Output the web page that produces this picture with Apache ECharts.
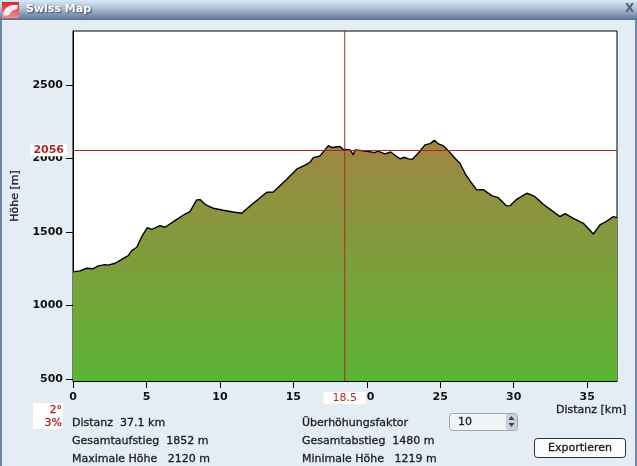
<!DOCTYPE html>
<html>
<head>
<meta charset="utf-8">
<title>Swiss Map</title>
<script src="https://cdn.jsdelivr.net/npm/echarts@6/dist/echarts.min.js"></script>
<style>
html, body { margin: 0; padding: 0; background: #e4ecf4; }
#chart { width: 637px; height: 466px; }
</style>
</head>
<body>
<div id="chart"></div>
<script>
// Hoehenprofil
const distanzKm = [0, 0.48, 0.93, 1.38, 1.72, 2.18, 2.4, 2.86, 3.32, 3.76, 4.0, 4.34, 4.68, 5.06, 5.36, 5.92, 6.26, 6.94, 7.62, 7.96, 8.42, 8.65, 8.99, 9.55, 10.23, 10.91, 11.48, 12.05, 13.19, 13.64, 14.55, 15.23, 15.79, 16.13, 16.36, 16.81, 17.15, 17.38, 17.61, 18.18, 18.36, 18.86, 19.08, 19.2, 19.88, 20.56, 20.71, 21.24, 21.63, 21.92, 22.26, 22.53, 22.83, 23.1, 23.5, 23.96, 24.31, 24.6, 24.87, 25.2, 25.55, 26.0, 26.34, 26.68, 27.14, 27.48, 27.93, 28.5, 28.95, 29.52, 29.75, 30.2, 30.88, 31.11, 31.45, 32.01, 33.15, 33.49, 34.06, 34.74, 35.42, 35.87, 36.21, 36.78, 37.03];
const hoeheM = [1228, 1235, 1253, 1250, 1269, 1278, 1274, 1287, 1314, 1339, 1373, 1396, 1468, 1529, 1518, 1543, 1532, 1577, 1622, 1638, 1718, 1720, 1688, 1661, 1648, 1636, 1627, 1677, 1770, 1772, 1858, 1927, 1955, 1974, 2006, 2017, 2058, 2087, 2074, 2081, 2063, 2058, 2024, 2058, 2051, 2040, 2051, 2031, 2044, 2022, 1997, 2008, 1997, 1994, 2035, 2092, 2101, 2124, 2099, 2087, 2053, 2001, 1967, 1899, 1831, 1786, 1788, 1747, 1733, 1677, 1679, 1722, 1763, 1756, 1740, 1688, 1604, 1625, 1593, 1559, 1486, 1548, 1566, 1604, 1597];

const xTicks = [0, 5, 10, 15, 20, 25, 30, 35];
const yTicks = [500, 1000, 1500, 2000, 2500];
const yMin = 486;
const yMax = 2867;
const cursorKm = 18.5;
const cursorHoehe = 2056;

const schrift = '"DejaVu Sans", sans-serif';
const rot = '#b2262a';

// Beschriftung als Graphic, leicht fett durch duenne Kontur
function text(x, y, str, opt) {
  return {
    type: 'text', x: x, y: y,
    style: Object.assign({ text: str, font: 'normal 11px ' + schrift, fill: '#1c1c1c', stroke: '#1c1c1c', lineWidth: 0.3, textVerticalAlign: 'middle' }, opt || {})
  };
}

let chart = echarts.init(document.getElementById('chart'));

let option = {
  animation: false,
  backgroundColor: '#e4ecf4',
  grid: { left: 73, top: 31, width: 544, height: 350, outerBoundsMode: 'none', show: true, borderColor: '#000', borderWidth: 1, backgroundColor: '#fff' },
  xAxis: {
    type: 'value', min: 0, max: 37.03,
    axisLine: { lineStyle: { color: '#000' } },
    axisTick: { length: 7, customValues: xTicks, lineStyle: { color: '#000' } },
    axisLabel: { customValues: xTicks, margin: 11, color: '#111', fontSize: 11, fontWeight: 'bold', fontFamily: schrift, formatter: v => String(v) },
    splitLine: { show: false }
  },
  yAxis: {
    type: 'value', min: yMin, max: yMax,
    axisLine: { show: true, lineStyle: { color: '#000' } },
    axisTick: { show: true, length: 7, customValues: yTicks, lineStyle: { color: '#000' } },
    axisLabel: { customValues: yTicks, margin: 10, color: '#111', fontSize: 11, fontWeight: 'bold', fontFamily: schrift, formatter: v => String(v) },
    splitLine: { show: false }
  },
  series: [{
    type: 'line',
    z: 2,
    data: distanzKm.map((km, i) => [km, hoeheM[i]]),
    showSymbol: false,
    lineStyle: { color: '#000', width: 1.4 },
    areaStyle: {
      opacity: 1,
      color: new echarts.graphic.LinearGradient(0, 0, 0, 1, [
        { offset: 0, color: '#a08642' },
        { offset: 1, color: '#5ab534' }
      ])
    },
    markLine: {
      silent: true, symbol: 'none', animation: false,
      data: [
        { yAxis: cursorHoehe, lineStyle: { color: rot, width: 1, type: 'solid', opacity: 1 }, label: { position: 'start', distance: 6, formatter: String(cursorHoehe), padding: [0, 3, 0, 3], color: rot, backgroundColor: '#fff', fontSize: 11, fontWeight: 'bold', fontFamily: schrift, lineHeight: 12 } }
      ]
    }
  }, {
    // senkrechte Cursorlinie
    type: 'line',
    z: 5,
    clip: false,
    symbol: 'circle',
    symbolSize: 0,
    showSymbol: true,
    showAllSymbol: true,
    lineStyle: { color: rot, width: 1 },
    itemStyle: { color: rot },
    data: [
      { value: [cursorKm, yMin], label: { show: true, position: 'bottom', distance: 11, formatter: String(cursorKm), padding: [0, 9, 0, 9], color: rot, backgroundColor: '#fff', fontSize: 11, fontFamily: schrift, lineHeight: 12 } },
      { value: [cursorKm, yMax], label: { show: false } }
    ]
  }],
  graphic: { elements: [
    // Fensterrahmen
    { type: 'rect', shape: { x: 0, y: 0, width: 637, height: 20 }, style: { fill: new echarts.graphic.LinearGradient(0, 0, 0, 1, [{ offset: 0, color: '#d8e8f4' }, { offset: 0.45, color: '#aabfd6' }, { offset: 1, color: '#5a7094' }]) } },
    { type: 'rect', shape: { x: 0, y: 20, width: 2, height: 446 }, style: { fill: '#6f86ac' } },
    { type: 'rect', shape: { x: 635, y: 20, width: 2, height: 446 }, style: { fill: '#6f86ac' } },
    // Icon
    { type: 'rect', shape: { x: 2, y: 2, width: 17, height: 16 }, style: { fill: new echarts.graphic.LinearGradient(0, 0, 0, 1, [{ offset: 0, color: '#d8262c' }, { offset: 1, color: '#ef8d8d' }]) } },
    { type: 'polygon', shape: { points: [[3, 13], [6, 8], [11, 5], [18, 5], [17, 9], [12, 11], [9, 15], [4, 16]] }, style: { fill: '#fbecec' } },
    text(26, 9, 'Swiss Map', { font: 'bold 11px ' + schrift, fill: '#fff', stroke: null, lineWidth: 0, textShadowColor: '#3a3f4a', textShadowBlur: 2, textShadowOffsetX: 1, textShadowOffsetY: 1 }),
    text(625, 9, 'X', { font: 'bold 12px ' + schrift, fill: '#55606f', stroke: null, lineWidth: 0 }),

    // Achsentitel
    Object.assign(text(15, 196, 'Höhe [m]', { textAlign: 'center' }), { rotation: Math.PI / 2 }),
    text(556, 410, 'Distanz [km]'),

    // Steigung
    { type: 'rect', shape: { x: 33, y: 403, width: 30, height: 26 }, style: { fill: '#fff' } },
    text(62, 410, '2°', { fill: rot, stroke: rot, textAlign: 'right' }),
    text(62, 423, '3%', { fill: rot, stroke: rot, textAlign: 'right' }),

    // Kennzahlen
    text(72, 423, 'Distanz  37.1 km'),
    text(72, 441, 'Gesamtaufstieg  1852 m'),
    text(72, 459, 'Maximale Höhe   2120 m'),
    text(302, 423, 'Überhöhungsfaktor'),
    text(302, 441, 'Gesamtabstieg  1480 m'),
    text(302, 459, 'Minimale Höhe   1219 m'),

    // Spinner
    { type: 'rect', shape: { x: 449.5, y: 413.5, width: 68, height: 17, r: 3 }, style: { fill: '#f1f4f7', stroke: '#9aa5b1', lineWidth: 1 } },
    { type: 'rect', shape: { x: 506, y: 414, width: 11, height: 16, r: 2 }, style: { fill: '#c9d0d9' } },
    { type: 'polygon', shape: { points: [[508.5, 420], [511.5, 416], [514.5, 420]] }, style: { fill: '#39414c' } },
    { type: 'polygon', shape: { points: [[508.5, 423], [511.5, 427], [514.5, 423]] }, style: { fill: '#39414c' } },
    text(458, 422, '10'),

    // Button
    { type: 'rect', shape: { x: 534.5, y: 438.5, width: 91, height: 19, r: 3 }, style: { fill: '#fbfcfd', stroke: '#25313f', lineWidth: 1 } },
    text(580, 448, 'Exportieren', { textAlign: 'center' })
  ] }
};
chart.setOption(option);
</script>
</body>
</html>
